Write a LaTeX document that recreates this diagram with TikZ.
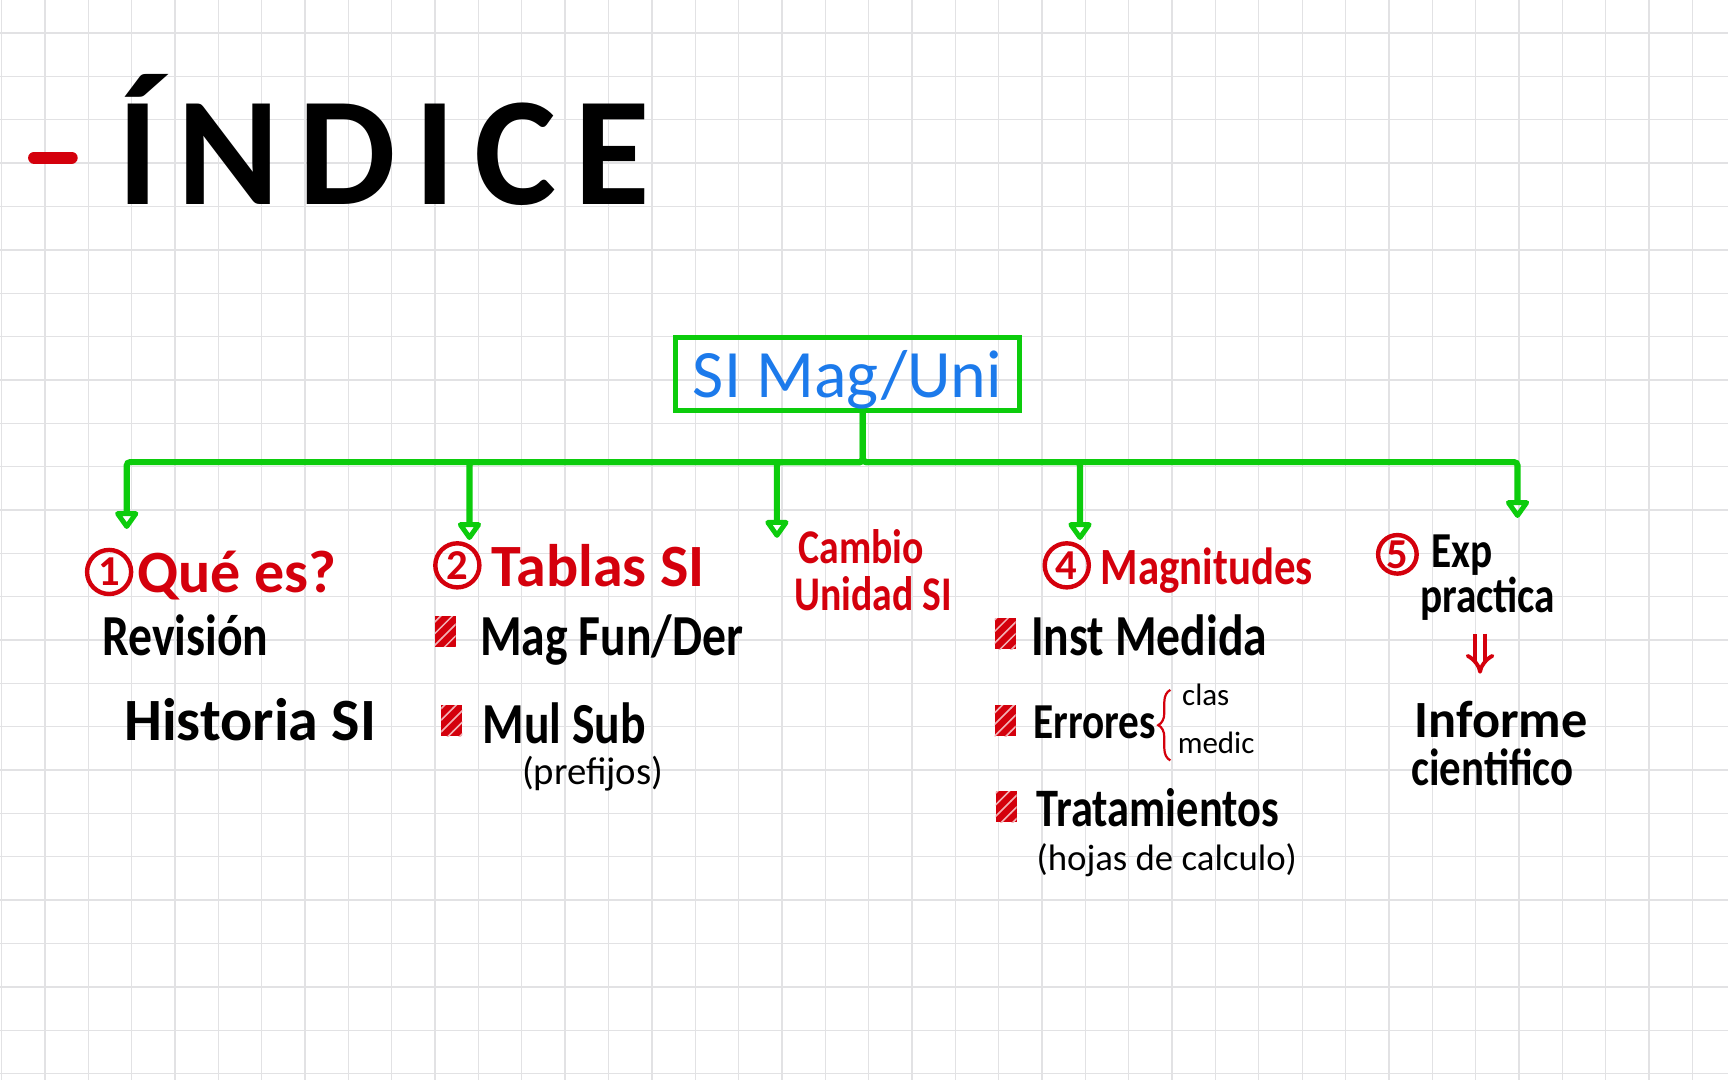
\documentclass[tikz,border=0pt]{standalone}
\usepackage{fontspec}
\setmainfont{Carlito}
\newfontfamily\mano{Carlito}[FakeStretch=0.82]
\usetikzlibrary{arrows.meta, decorations.pathreplacing, patterns}
\definecolor{rojo}{RGB}{212,0,12}
\definecolor{verde}{RGB}{12,204,12}
\definecolor{azul}{RGB}{28,122,235}
\definecolor{cuadri}{RGB}{226,226,228}

\begin{document}
\begin{tikzpicture}[x=0.1mm, y=-0.1mm,
    rama/.style={verde, line width=0.55mm, rounded corners=0.3mm, -{Triangle[open, round, width=2.4mm, length=1.8mm]}},
    implica/.style={rojo, line width=0.35mm, double distance=0.5mm, -{Implies[scale=2]}, shorten <=1.1mm, shorten >=2.4mm},
    item/.style={anchor=base west, inner sep=0, font=\mano\bfseries\fontsize{15}{15}\selectfont},
    titulo/.style={item, text=rojo},
    talla/.style={font=\mano\bfseries\fontsize{#1}{#1}\selectfont},
    ancho/.style={font=\bfseries\fontsize{#1}{#1}\selectfont},
    ancho/.default=15.5,
    nota/.style={anchor=base west, inner sep=0, font=\fontsize{#1}{#1}\selectfont},
    nota/.default=10,
    num/.style={circle, draw=rojo, text=rojo, line width=0.4mm, minimum size=4mm, inner sep=0, font=\bfseries\fontsize{11}{11}\selectfont},
    vineta/.style={fill=rojo, minimum width=1.9mm, minimum height=2.8mm, inner sep=0, postaction={pattern=north east lines, pattern color=white!70!rojo}}]
    \useasboundingbox (0,0) rectangle (1568,980);
    \fill[white] (0,0) rectangle (1568,980);
    \foreach \i in {0,...,39}
        \draw[cuadri, line width=0.12mm] (1.4+39.34*\i,0) -- (1.4+39.34*\i,980);
    \foreach \j in {0,...,24}
        \draw[cuadri, line width=0.12mm] (0,30+39.34*\j) -- (1568,30+39.34*\j);
    \draw[rojo, line width=1.1mm, line cap=round] (31,143) -- (65,143);
    \node[anchor=base west, inner sep=0, font=\bfseries\fontsize{40}{40}\selectfont\addfontfeatures{LetterSpace=12}] (indice) at (106,186) {ÍNDICE};
    \node[draw=verde, line width=0.45mm, minimum width=31.2mm, minimum height=6.4mm, text depth=0pt, text=azul, font=\fontsize{17.5}{17.5}\selectfont] (raiz) at (769,339) {SI Mag/Uni};
    \coordinate (f1) at (115,480);
    \coordinate (f2) at (426,490);
    \coordinate (f3) at (705,488);
    \coordinate (f4) at (980,490);
    \coordinate (f5) at (1377,470);
    \foreach \f in {f1,f2,f3,f4,f5}
        \draw[rama] ([xshift=1.4mm]raiz.south) -- ++(0,45) -| (\f);
    \node[num] (n1) at (99,519) {1};
    \node[titulo, ancho] (que) at (124,538) {Qué es?};
    \node[item] (revision) at (92,595) {Revisión};
    \node[item, ancho] (historia) at (112,672) {Historia SI};
    \node[num] (n2) at (415,513) {2};
    \node[titulo, ancho] (tablas) at (445,532) {Tablas SI};
    \node[vineta] (b21) at (404,573) {};
    \node[item] (magfun) at (435,595) {Mag Fun/Der};
    \node[vineta] (b22) at (410,654) {};
    \node[item] (mulsub) at (437,675) {Mul Sub};
    \node[nota] (prefijos) at (473,712) {(prefijos)};
    \node[titulo, talla=12.5] (cambio) at (724,511) {Cambio};
    \node[titulo, talla=12.5] (unidad) at (720,554) {Unidad SI};
    \node[num] (n4) at (968,513) {4};
    \node[titulo, talla=13.5] (magnitudes) at (998,530) {Magnitudes};
    \node[vineta] (b41) at (912,575) {};
    \node[item] (inst) at (935,595) {Inst Medida};
    \node[vineta] (b42) at (912,654) {};
    \node[item, talla=13] (errores) at (937,670) {Errores};
    \draw[rojo, line width=0.2mm, decorate, decoration={brace, amplitude=1.1mm}] (1062,690) -- (1062,626);
    \node[nota=8] (clas) at (1072,640) {clas};
    \node[nota=8] (medic) at (1068,684) {medic};
    \node[vineta] (b43) at (913,732) {};
    \node[item, talla=14] (trat) at (940,750) {Tratamientos};
    \node[nota=9.5] (hojas) at (940,790) {(hojas de calculo)};
    \node[num, minimum size=3.5mm] (n5) at (1268,503) {5};
    \node[item, talla=13] (exp) at (1298,515) {Exp};
    \node[item, talla=13] (practica) at (1288,556) {practica};
    \node[item, ancho=13.5] (informe) at (1283,669) {Informe};
    \node[item, talla=13.5] (cientifico) at (1280,713) {cientifico};
    \draw[implica] (practica.south -| 1343,0) -- (informe.north -| 1343,0);
\end{tikzpicture}
\end{document}
